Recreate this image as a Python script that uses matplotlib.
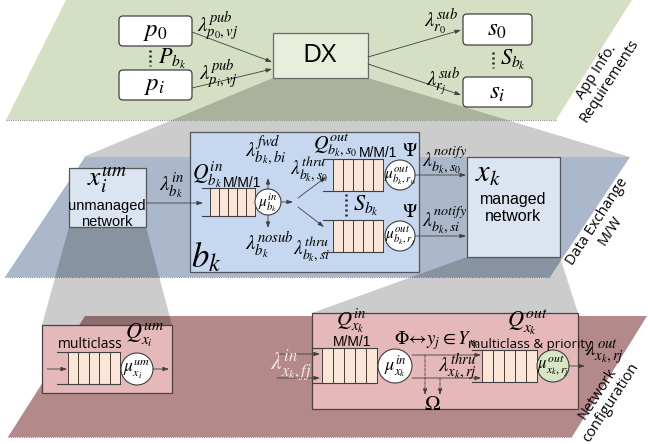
import matplotlib
matplotlib.use('Agg')
import matplotlib.pyplot as plt
from matplotlib.patches import Polygon, Rectangle, FancyBboxPatch, Circle

plt.rcParams['mathtext.fontset'] = 'stix'
plt.rcParams['font.family'] = ['Liberation Sans', 'DejaVu Sans']

# ---- labels / text content ----
layer_names = ['App Info.\nRequirements', 'Data Exchange\nM/W', 'Network\nconfiguration']
p_nodes = [r'$p_0$', r'$p_i$']
s_nodes = [r'$s_0$', r'$s_i$']
pub_rates = [r'$\lambda^{pub}_{p_0,vj}$', r'$\lambda^{pub}_{p_i,vj}$']
sub_rates = [r'$\lambda^{sub}_{r_0}$', r'$\lambda^{sub}_{r_j}$']
set_labels = [r'$P_{b_k}$', r'$S_{b_k}$']
dx_label = 'DX'

mid_in = [r'$x^{um}_i$', 'unmanaged\nnetwork', r'$\lambda^{in}_{b_k}$']
bk_labels = [r'$Q^{in}_{b_k}$', 'M/M/1', r'$\mu^{in}_{b_k}$',
             r'$\lambda^{fwd}_{b_k,bi}$', r'$\lambda^{nosub}_{b_k}$', r'$b_k$']
thru_labels = [r'$\lambda^{thru}_{b_k,s_0}$', r'$\lambda^{thru}_{b_k,si}$']
out_q_label = r'$Q^{out}_{b_k,s_0}$'
out_mu = [r'$\mu^{out}_{b_k,r_0}$', r'$\mu^{out}_{b_k,r_j}$']
notify = [r'$\lambda^{notify}_{b_k,s_0}$', r'$\lambda^{notify}_{b_k,si}$']
xk_labels = [r'$x_k$', 'managed\nnetwork']

um_labels = [r'$Q^{um}_{x_i}$', 'multiclass', r'$\mu^{um}_{x_i}$']
net_labels = [r'$\lambda^{in}_{x_k,fj}$', r'$Q^{in}_{x_k}$', 'M/M/1', r'$\mu^{in}_{x_k}$',
              r'$\Phi\!\leftrightarrow\! y_j \in Y_{x_k}$', r'$\lambda^{thru}_{x_k,rj}$', r'$\Omega$',
              r'$Q^{out}_{x_k}$', 'multiclass & priority', r'$\mu^{out}_{x_k,r_j}$',
              r'$\lambda^{out}_{x_k,rj}$']

# ---- figure ----
fig = plt.figure(figsize=(6.48, 4.44), dpi=100)
ax = fig.add_axes([0, 0, 1, 1])
ax.set_xlim(0, 648)
ax.set_ylim(444, 0)
ax.axis('off')

EDGE = '#404040'
CELL = '#fbe5d6'


def poly(pts, fc, alpha=1.0, z=1, ec='none', lw=0):
    ax.add_patch(Polygon(pts, closed=True, fc=fc, ec=ec, lw=lw, alpha=alpha, zorder=z))


def rect(x0, y0, x1, y1, fc, z=5, ec=EDGE, lw=0.9):
    ax.add_patch(Rectangle((x0, y0), x1 - x0, y1 - y0, fc=fc, ec=ec, lw=lw, zorder=z))


def rbox(x0, y0, x1, y1, fc='white', z=5):
    ax.add_patch(FancyBboxPatch((x0 + 4, y0 + 4), x1 - x0 - 8, y1 - y0 - 8,
                                boxstyle='round,pad=4', fc=fc, ec=EDGE, lw=0.9, zorder=z))


def arr(x1, y1, x2, y2, ls='-', color='#404040', lw=0.6, z=8):
    ax.annotate('', xy=(x2, y2), xytext=(x1, y1), zorder=z,
                arrowprops=dict(arrowstyle='-|>,head_length=0.35,head_width=0.12',
                                color=color, lw=lw, linestyle=ls, shrinkA=0, shrinkB=0))


def t(x, y, s, size, z=9, **kw):
    kw.setdefault('ha', 'center')
    kw.setdefault('va', 'center')
    ax.text(x, y, s, fontsize=size, zorder=z, **kw)


def queue(x0, y0, x1, y1, ext=8, n=5, z=7):
    w = (x1 - x0) / n
    for i in range(n):
        rect(x0 + i * w, y0, x0 + (i + 1) * w, y1, CELL, z=z, ec=EDGE, lw=0.7)
    ax.plot([x0 - ext, x1], [y0, y0], color=EDGE, lw=0.8, zorder=z)
    ax.plot([x0 - ext, x1], [y1, y1], color=EDGE, lw=0.8, zorder=z)


def circ(cx, cy, r, fc='white', z=8):
    ax.add_patch(Circle((cx, cy), r, fc=fc, ec=EDGE, lw=0.8, zorder=z))


def vdots(x, y0, y1, z=9):
    ax.plot([x, x], [y0, y1], color='#222222', lw=1.8, ls=(0, (0.8, 1.2)), zorder=z)


# ---- layers ----
green = [(66, 0), (632, 0), (556, 120), (6, 120)]
blue = [(85, 157), (630, 157), (550, 277), (5, 277)]
maroon = [(85, 316), (647, 316), (572, 437), (8, 437)]
poly(green, '#d5dfc3', z=1)
poly([(273, 78), (368, 78), (630, 157), (83, 157)], 'black', alpha=0.2, z=2)
poly(blue, '#abb8cb', z=3)
poly(maroon, '#b3898a', z=3)
for L in (green, blue, maroon):
    ax.plot([L[3][0], L[2][0]], [L[3][1], L[2][1]], color='#8a8a8a', lw=0.8,
            ls=(0, (1, 1)), zorder=3.5)
# lower funnels
poly([(69, 227), (146, 227), (172, 325), (42, 325)], 'black', alpha=0.2, z=4)
poly([(467, 257), (560, 257), (578, 313), (312, 313)], 'black', alpha=0.2, z=4)

# layer names
rot = 57
t(603, 76, layer_names[0], 10.5, rotation=rot, family='Open Sans', linespacing=1.1)
t(604, 226, layer_names[1], 10.5, rotation=rot, family='Open Sans', linespacing=1.1)
t(604, 398, layer_names[2], 10.5, rotation=rot, family='Open Sans', linespacing=1.1)

# ---- top layer ----
p_y = [(16, 46), (70, 100)]
s_y = [(14, 45), (77, 107)]
for (y0, y1), lab in zip(p_y, p_nodes):
    rbox(119, y0, 192, y1)
    t(155, (y0 + y1) / 2, lab, 18)
for (y0, y1), lab in zip(s_y, s_nodes):
    rbox(463, y0, 532, y1)
    t(497, (y0 + y1) / 2, lab, 18)
rect(273, 33, 368, 78, '#e7eedb', ec='#6a6a6a')
t(320, 56, dx_label, 19, family='Open Sans')
arr(192, 32, 272, 62)
arr(192, 88, 272, 69)
arr(368, 57, 461, 30)
arr(368, 64, 461, 95)
t(218, 26, pub_rates[0], 15)
t(218, 74, pub_rates[1], 15)
t(441, 22, sub_rates[0], 15)
t(443, 82, sub_rates[1], 15)
vdots(150, 50, 66)
t(172, 59, set_labels[0], 16)
vdots(493, 52, 68)
t(513, 60, set_labels[1], 16)

# ---- middle layer ----
rect(69, 168, 146, 227, '#dbe4f1', ec='#555555')
t(107, 181, mid_in[0], 20)
t(107, 214, mid_in[1], 10.5, linespacing=1.15)
arr(146, 203, 203, 203)
t(172, 186, mid_in[2], 15)

rect(190, 132, 419, 272, '#c6d8ef', ec='#555555')
queue(210, 188, 255, 216, ext=8)
circ(268, 202, 13)
t(268, 203, bk_labels[2], 11)
t(208, 175, bk_labels[0], 15.5)
t(242, 183, bk_labels[1], 10)
arr(268, 189, 268, 178)
t(266, 150, bk_labels[3], 15)
arr(268, 215, 268, 228)
t(269, 245, bk_labels[4], 15)
arr(281, 202, 293, 202)
arr(298, 198, 326, 177)
arr(298, 207, 324, 227)
t(309, 169, thru_labels[0], 14)
t(312, 249, thru_labels[1], 14)
t(206, 257, bk_labels[5], 25)

out_y = [(159, 191), (220, 252)]
for (y0, y1), mu in zip(out_y, out_mu):
    queue(333, y0, 383, y1, ext=10)
    cy = (y0 + y1) / 2
    circ(400, cy, 15)
    t(400, cy, mu, 11)
    t(410, y0 - 8, r'$\Psi$', 14)
t(313, 145, out_q_label, 14.5, ha='left')
t(378, 153, bk_labels[1], 10)
vdots(346, 194, 217)
t(366, 206, set_labels[1], 16)

rect(467, 157, 560, 257, '#dbe4f1', ec='#555555')
for cy, lab, ly in zip([175, 236], notify, [160, 220]):
    arr(415, cy, 466, cy)
    t(445, ly, lab, 14.5)
t(488, 174, xk_labels[0], 22)
t(513, 208, xk_labels[1], 11.5, linespacing=1.15)

# ---- bottom layer ----
rect(42, 325, 172, 393, '#e5b9ba', ec='#444444')
queue(68, 352, 120, 384, ext=11)
circ(137, 369, 16)
t(137, 369, um_labels[2], 12.5)
t(90, 344, um_labels[1], 10, family='Open Sans')
t(145, 335, um_labels[0], 16)
arr(47, 369, 67, 369)
arr(153, 369, 169, 369)

rect(312, 313, 578, 409, '#e5b9ba', ec='#444444')
arr(277, 354, 320, 354)
arr(277, 378, 320, 378)
t(291, 366, net_labels[0], 17, color='#f6e8e8')
queue(322, 348, 377, 383, ext=10)
circ(395, 366, 17)
t(395, 367, net_labels[3], 13)
t(351, 321, net_labels[1], 15)
t(352, 349, net_labels[2], 10, va='bottom')
t(437, 341, net_labels[4], 13.5)
arr(412, 355, 481, 355)
arr(412, 378, 481, 378)
t(457, 367, net_labels[5], 15)
arr(425, 355, 425, 395, ls='--', lw=0.6)
arr(440, 378, 440, 395, ls='--', lw=0.6)
t(433, 404, net_labels[6], 15)
queue(482, 350, 537, 382, ext=10)
circ(553, 366, 16, fc='#d7e6c3')
t(553, 366, net_labels[9], 12)
t(527, 322, net_labels[7], 16)
t(530, 344, net_labels[8], 9.5, family='Open Sans')
arr(569, 366, 585, 366)
t(604, 352, net_labels[10], 15)

fig.savefig('out.png', dpi=100)
